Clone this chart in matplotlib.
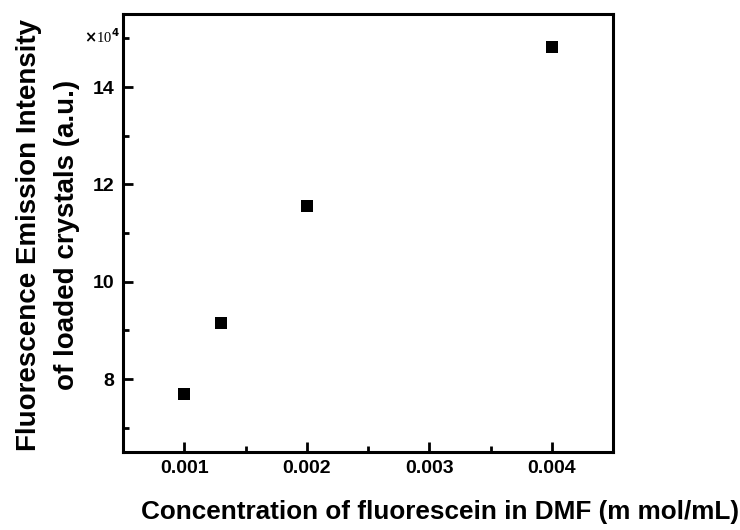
import numpy as np
import matplotlib
matplotlib.use("Agg")
import matplotlib.pyplot as plt
from matplotlib.ticker import MultipleLocator

# concentration (m mol/mL) and intensity (x10^4 a.u.)
conc = [0.001, 0.0013, 0.002, 0.004]
intensity = [7.69, 9.16, 11.55, 14.83]
xticks = [0.001, 0.002, 0.003, 0.004]
xticklabels = ["0.001", "0.002", "0.003", "0.004"]
yticks = [8, 10, 12, 14]

plt.rcParams['font.family'] = ['Liberation Sans', 'DejaVu Sans']
plt.rcParams['font.weight'] = 'bold'

fig = plt.figure(figsize=(7.4, 5.3), dpi=100)
ax = fig.add_axes([123 / 740, 1 - 452 / 530, 490 / 740, 438 / 530])

ax.scatter(conc, intensity, marker='s', s=72, c='black', linewidths=0)

ax.set_xlim(0.0005, 0.0045)
ax.set_ylim(6.5, 15.5)
ax.set_xticks(xticks)
ax.set_xticklabels(xticklabels)
ax.set_yticks(yticks)
ax.xaxis.set_minor_locator(MultipleLocator(0.0005))
ax.yaxis.set_minor_locator(MultipleLocator(1))

for s in ax.spines.values():
    s.set_linewidth(2.2)

ax.tick_params(which='both', direction='in', top=False, right=False, width=2, labelsize=14)
ax.tick_params(which='major', length=7.5, pad=6)
ax.tick_params(which='minor', length=4.5)
for lbl in ax.get_xticklabels() + ax.get_yticklabels():
    lbl.set_fontweight('bold')

ax.set_xlabel("Concentration of fluorescein in DMF (m mol/mL)", fontsize=18.8, fontweight='bold')
ax.xaxis.set_label_coords((440 - 123) / 490, -0.11)
ax.set_ylabel("Fluorescence Emission Intensity\nof loaded crystals (a.u.)", fontsize=20, fontweight='bold',
              linespacing=1.6)
ax.yaxis.set_label_coords((80 - 123) / 490, 0.495)

fig.text(84 / 740, 1 - 37 / 530, r"$\times$10$^4$", family='Liberation Serif', fontweight='normal',
         fontsize=10.5, va='center', ha='left')

fig.savefig("out.png", dpi=100)
